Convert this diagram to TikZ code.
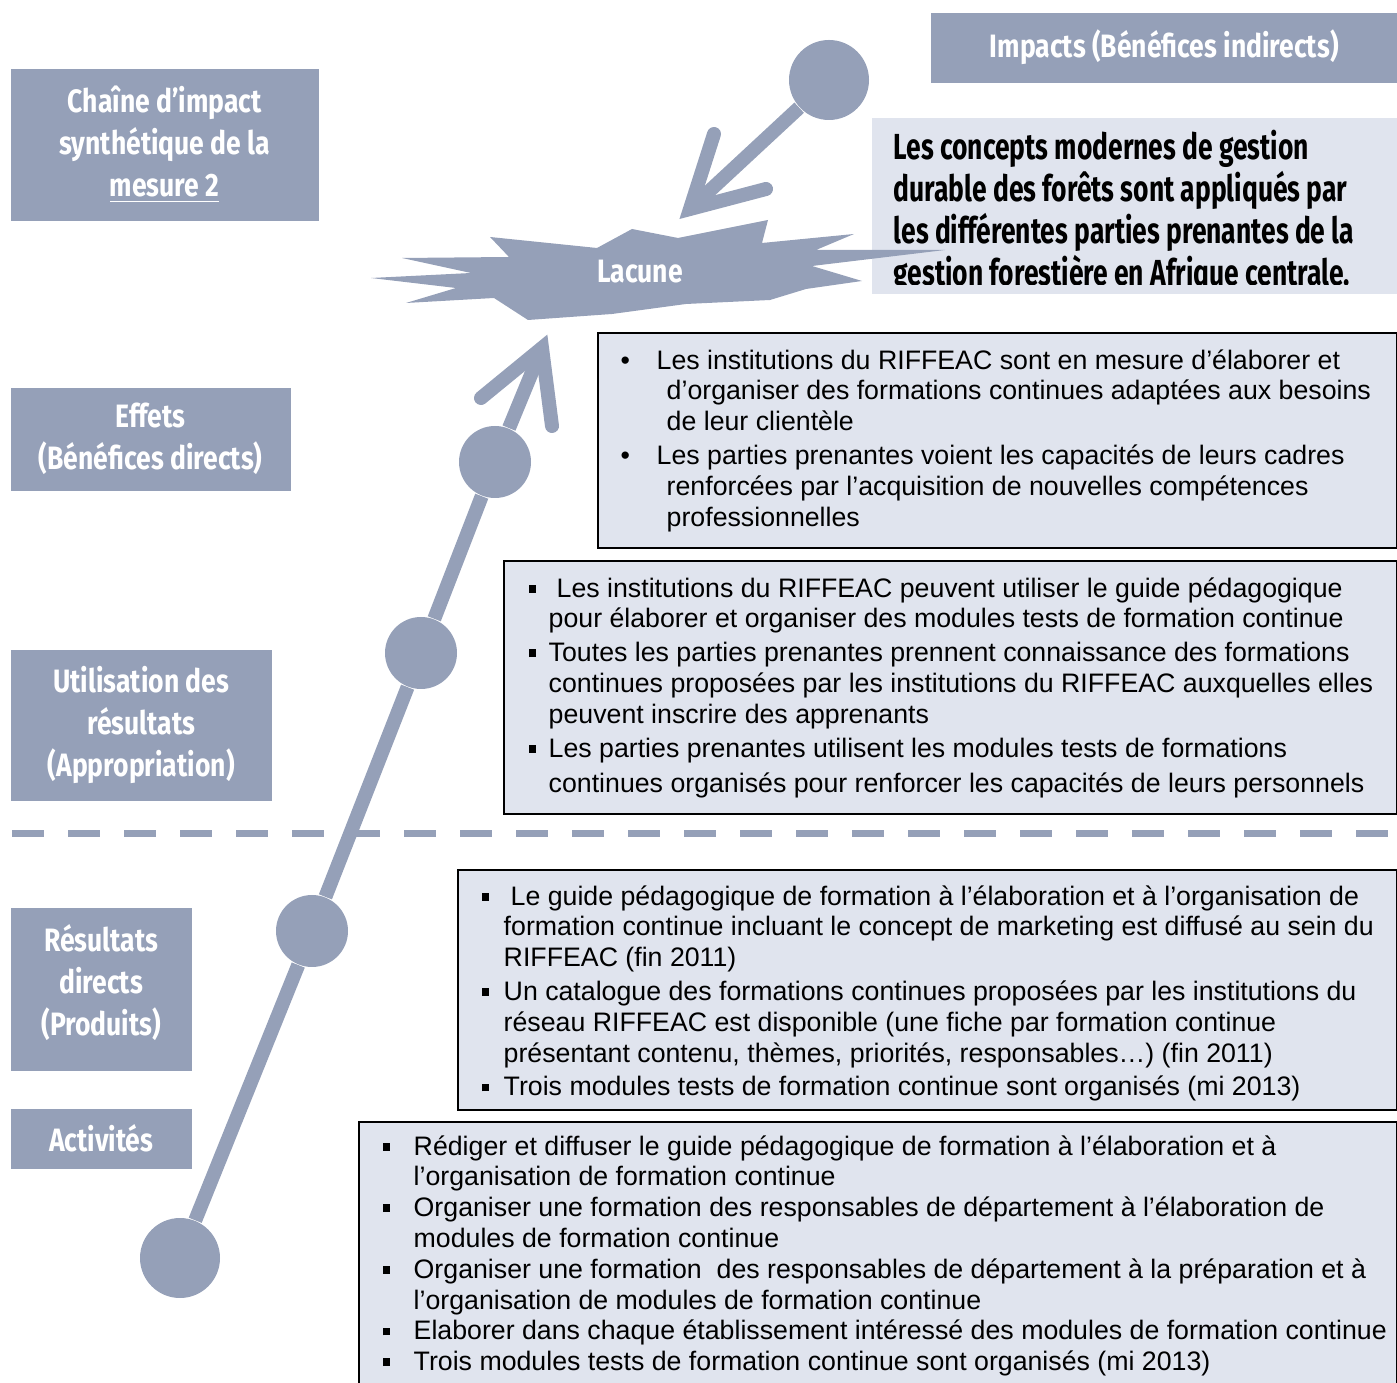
\documentclass[tikz,border=0pt]{standalone}
\usepackage{fontspec}
\setmainfont{Liberation Sans}
\newfontfamily\lblfont{Fira Sans}[FakeStretch=0.82]
\newfontfamily\impfont{Fira Sans}[FakeStretch=0.73]
\usetikzlibrary{
    calc,
    positioning
}
\definecolor{chainblue}{HTML}{95A0B8}
\definecolor{boxfill}{HTML}{E0E4EE}
\newlength{\px}
\setlength{\px}{0.01cm}
\newcommand{\sqbullet}{\rule[1.3pt]{2.2pt}{2.2pt}}
\newcommand{\firstline}{\rule{0pt}{7.5pt}}

\tikzset{
    lbl/.style={fill=chainblue, text=white, anchor=north west, inner sep=0pt,
        align=center, font=\lblfont\bfseries\fontsize{9.2}{11.95}\selectfont},
    bodybox/.style={draw=black, line width=2\px, fill=boxfill, anchor=north west, inner sep=0pt},
    bodytext/.style={anchor=north west, inner sep=0pt, align=left,
        font=\fontsize{7.6}{8.76}\selectfont},
    dot/.style={circle, fill=chainblue, inner sep=0pt},
    chain/.style={draw=chainblue, line width=14\px},
    barb/.style={draw=chainblue, line width=14\px, line cap=round, line join=miter}
}

\begin{document}
\begin{tikzpicture}[x=0.01cm, y=-0.01cm]
    \clip (0,0) rectangle (1397,1383);

    % left column of levels
    \node[lbl, minimum width=308\px, minimum height=152\px] (chainlbl) at (10,68)
        {Chaîne d’impact\\synthétique de la\\\underline{mesure 2}};
    \node[lbl, minimum width=280\px, minimum height=103\px] (efflbl) at (10,387)
        {Effets\\(Bénéfices directs)};
    \node[lbl, minimum width=261\px, minimum height=151\px] (uselbl) at (10,649)
        {Utilisation des\\résultats\\(Appropriation)};
    \node[lbl, minimum width=181\px, minimum height=163\px] (reslbl) at (10,907)
        {Résultats\\directs\\(Produits)\\[-6.85pt]\mbox{}};
    \node[lbl, minimum width=181\px, minimum height=60\px] (actlbl) at (10,1108)
        {Activités};
    \node[lbl, minimum width=467\px, minimum height=70\px] (implbl) at (930,12)
        {Impacts (Bénéfices indirects)\\[-9.4pt]\mbox{}};

    % text boxes
    \node[bodybox, minimum width=799\px, minimum height=215\px] (effbox) at (597,332) {};
    \node[bodybox, minimum width=893\px, minimum height=253\px] (usebox) at (503,560) {};
    \node[bodybox, minimum width=939\px, minimum height=240\px] (resbox) at (457,869) {};
    \node[bodybox, minimum width=1038\px, minimum height=280\px] (actbox) at (358,1121) {};
    \node[fill=boxfill, anchor=north west, inner sep=0pt,
        minimum width=526\px, minimum height=176\px] (impbox) at (871,117) {};

    \node[bodytext] (efftxt) at (620,342) {%
        \firstline\makebox[36\px][l]{\textbullet}Les institutions du RIFFEAC sont en mesure d’élaborer et\\
        \hspace*{46\px}d’organiser des formations continues adaptées aux besoins\\
        \hspace*{46\px}de leur clientèle\\[3\px]
        \makebox[36\px][l]{\textbullet}Les parties prenantes voient les capacités de leurs cadres\\
        \hspace*{46\px}renforcées par l’acquisition de nouvelles compétences\\
        \hspace*{46\px}professionnelles};

    \node[bodytext] (usetxt) at (528,570) {%
        \firstline\makebox[28\px][l]{\sqbullet}Les institutions du RIFFEAC peuvent utiliser le guide pédagogique\\
        \hspace*{20\px}pour élaborer et organiser des modules tests de formation continue\\[3\px]
        \makebox[20\px][l]{\sqbullet}Toutes les parties prenantes prennent connaissance des formations\\
        \hspace*{20\px}continues proposées par les institutions du RIFFEAC auxquelles elles\\
        \hspace*{20\px}peuvent inscrire des apprenants\\[3\px]
        \makebox[20\px][l]{\sqbullet}Les parties prenantes utilisent les modules tests de formations\\[5\px]
        \hspace*{20\px}continues organisés pour renforcer les capacités de leurs personnels};

    \node[bodytext] (restxt) at (481,878) {%
        \firstline\makebox[29\px][l]{\sqbullet}Le guide pédagogique de formation à l’élaboration et à l’organisation de\\
        \hspace*{22\px}formation continue incluant le concept de marketing est diffusé au sein du\\
        \hspace*{22\px}RIFFEAC (fin 2011)\\[3\px]
        \makebox[22\px][l]{\sqbullet}Un catalogue des formations continues proposées par les institutions du\\
        \hspace*{22\px}réseau RIFFEAC est disponible (une fiche par formation continue\\
        \hspace*{22\px}présentant contenu, thèmes, priorités, responsables…) (fin 2011)\\[3\px]
        \makebox[22\px][l]{\sqbullet}Trois modules tests de formation continue sont organisés (mi 2013)};

    \node[bodytext] (acttxt) at (382,1128) {%
        \firstline\makebox[31\px][l]{\sqbullet}Rédiger et diffuser le guide pédagogique de formation à l’élaboration et à\\
        \hspace*{31\px}l’organisation de formation continue\\
        \makebox[31\px][l]{\sqbullet}Organiser une formation des responsables de département à l’élaboration de\\
        \hspace*{31\px}modules de formation continue\\
        \makebox[31\px][l]{\sqbullet}Organiser une formation\ \ des responsables de département à la préparation et à\\
        \hspace*{31\px}l’organisation de modules de formation continue\\
        \makebox[31\px][l]{\sqbullet}Elaborer dans chaque établissement intéressé des modules de formation continue\\
        \makebox[31\px][l]{\sqbullet}Trois modules tests de formation continue sont organisés (mi 2013)};

    % border between results and use
    \coordinate (dashL) at (12,834);
    \coordinate (dashR) at (1397,834);
    \draw[draw=chainblue, line width=7\px, dash pattern=on 32\px off 24\px] (dashL) -- (dashR);

    % the lacune star
    \fill[chainblue] (371,278) -- (471,273) -- (402,258) -- (509,257) -- (490,237)
        -- (597,248) -- (632,229) -- (678,238) -- (768,220) -- (762,243)
        -- (854,234) -- (816,250) -- (945,250) -- (812,266) -- (862,281)
        -- (806,289) -- (770,300) -- (686,304) -- (612,314) -- (528,320)
        -- (494,298) -- (406,303) -- (456,288) -- cycle;
    \node[text=white, font=\lblfont\bfseries\fontsize{9.2}{11.95}\selectfont] (lacune) at (640,272) {Lacune};

    \begin{scope}
        \clip (871,117) rectangle (1397,285);
        \node[anchor=north west, inner sep=0pt, align=left,
            font=\impfont\bfseries\fontsize{10.3}{11.95}\selectfont] (imptxt) at (893,127) {%
            \rule{0pt}{9pt}Les concepts modernes de gestion\\
            durable des forêts sont appliqués par\\
            les différentes parties prenantes de la\\
            gestion forestière en Afrique centrale.};
    \end{scope}

    % chain of results
    \node[dot, minimum size=80\px] (actdot) at (180,1258) {};
    \node[dot, minimum size=72\px] (resdot) at (312,931) {};
    \node[dot, minimum size=72\px] (usedot) at (421,653) {};
    \node[dot, minimum size=72\px] (effdot) at (495,462) {};
    \coordinate (gaptip) at (542,348);
    \coordinate (gapL) at (481,398);
    \coordinate (gapR) at (552,426);
    \draw[chain] (actdot) -- (resdot) -- (usedot) -- (effdot) -- (gaptip);
    \draw[barb] (gapL) -- (gaptip) -- (gapR);

    % impact arrow
    \node[dot, minimum size=80\px] (impdot) at (829,80) {};
    \coordinate (imptip) at (690,209);
    \coordinate (impL) at (714,134);
    \coordinate (impR) at (766,189);
    \draw[chain] (impdot) -- (imptip);
    \draw[barb] (impL) -- (imptip) -- (impR);
\end{tikzpicture}
\end{document}
